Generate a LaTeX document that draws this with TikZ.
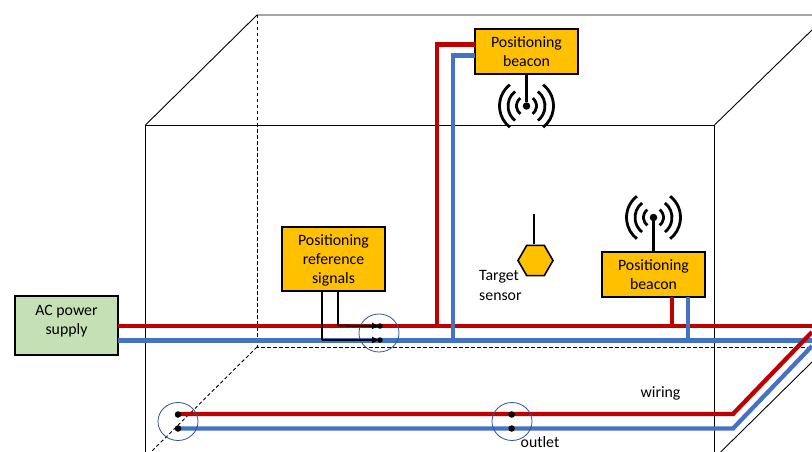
\documentclass[tikz,border=0pt]{standalone}
\usepackage{fontspec}
\setmainfont{Carlito}
\usetikzlibrary{arrows.meta,shapes.geometric}
\definecolor{wred}{HTML}{C00000}
\definecolor{wblue}{HTML}{4472C4}
\definecolor{box}{HTML}{FFC000}
\definecolor{grn}{HTML}{C5E0B4}
\definecolor{ring}{HTML}{2F5597}
\tikzset{
  edge/.style={draw=black,line width=0.9pt},
  hidden/.style={draw=black,line width=0.9pt,dash pattern=on 3.5pt off 2.5pt},
  redw/.style={draw=wred,line width=4.3pt,line join=miter},
  bluew/.style={draw=wblue,line width=4.3pt,line join=miter},
  sig/.style={draw=black,line width=1.8pt,line join=miter},
  sigarrow/.style={sig,-{Latex[length=8pt,width=7pt]}},
  stem/.style={draw=black,line width=2.2pt},
  wave/.style={draw=black,line width=2.8pt,line cap=butt},
  orangebox/.style={draw=black,line width=1.6pt,fill=box,align=center,font=\fontsize{15.8}{19.3}\selectfont,inner sep=0pt},
  label/.style={align=left,font=\fontsize{15.8}{20}\selectfont,inner sep=0pt},
  ringnode/.style={draw=ring,line width=0.8pt,ellipse,minimum width=40pt,minimum height=38pt,inner sep=0pt},
  dot/.style={circle,fill=black,minimum size=6.5pt,inner sep=0pt},
  tiny/.style={circle,fill=black,minimum size=5.5pt,inner sep=0pt}
}
\newcommand{\antenna}[1]{%
  \foreach \r in {10,18.5,27}{
    \draw[wave] (#1) ++(52:\r pt) arc[start angle=52,end angle=-52,radius=\r pt];
    \draw[wave] (#1) ++(128:\r pt) arc[start angle=128,end angle=232,radius=\r pt];
  }
}
\begin{document}
\begin{tikzpicture}[x=1pt,y=-1pt]
\useasboundingbox (0,0) rectangle (812,452);
\fill[white] (0,0) rectangle (812,452);
% cube
\coordinate (ftl) at (145.5,125); \coordinate (ftr) at (714.5,125);
\coordinate (fbl) at (145.5,452); \coordinate (fbr) at (714.5,452);
\coordinate (btl) at (257,15); \coordinate (btr) at (812,15);
\coordinate (bbl) at (257,347); \coordinate (bbr) at (812,347);
\coordinate (dfl) at (151,452); \coordinate (trx) at (812,30);
\coordinate (brx) at (812,362); \coordinate (brn) at (720.7,452);
\draw[edge] (fbl) -- (ftl) -- (ftr) -- (fbr);
\draw[edge] (ftl) -- (btl) -- (btr);
\draw[edge] (ftr) -- (trx);
\draw[edge] (brx) -- (brn);
\draw[hidden] (btl) -- (bbl) -- (bbr);
\draw[hidden] (bbl) -- (dfl);
% nodes
\node[orangebox,draw=black,fill=grn,minimum width=103pt,minimum height=59pt,text depth=11.5pt] (ac) at (66.5,325.5) {AC power\\supply};
\node[orangebox,minimum width=103pt,minimum height=45pt] (b1) at (526.5,51.5) {Positioning\\beacon};
\node[orangebox,minimum width=103pt,minimum height=45pt] (b2) at (653.5,274.5) {Positioning\\beacon};
\node[orangebox,minimum width=103pt,minimum height=64pt,text depth=0pt] (ref) at (333.5,259) {Positioning\\reference\\signals};
% junctions
\coordinate (acr) at (118,326); \coordinate (acb) at (118,340.5);
\coordinate (er) at (812,326); \coordinate (eb) at (812,340.5);
\coordinate (b1r) at (475,44.5); \coordinate (b1rc) at (437,44.5); \coordinate (b1rd) at (437,326);
\coordinate (b1b) at (475,55.5); \coordinate (b1bc) at (453,55.5); \coordinate (b1bd) at (453,340.5);
\coordinate (b2r) at (672,297); \coordinate (b2rd) at (672,326);
\coordinate (b2b) at (688,297); \coordinate (b2bd) at (688,340.5);
\coordinate (lr1) at (178,414); \coordinate (lr2) at (733,414); \coordinate (lr3) at (812,332);
\coordinate (lb1) at (178,428.5); \coordinate (lb2) at (733,428.5); \coordinate (lb3) at (812,346);
% wires
\draw[redw] (acr) -- (er);
\draw[bluew] (acb) -- (eb);
\draw[redw] (b1r) -- (b1rc) -- (b1rd);
\draw[bluew] (b1b) -- (b1bc) -- (b1bd);
\draw[redw] (b2r) -- (b2rd);
\draw[bluew] (b2b) -- (b2bd);
\draw[redw] (lr1) -- (lr2) -- (lr3);
\draw[bluew] (lb1) -- (lb2) -- (lb3);
% outlets
\node[ringnode] (o0) at (379,333) {};
\node[ringnode] (o1) at (178,421.5) {};
\node[ringnode] (o2) at (512,421.5) {};
\node[tiny] (p1) at (380,326) {};
\node[tiny] (p2) at (380,340) {};
\node[dot] (q1) at (178,414.5) {};
\node[dot] (q2) at (178,428.5) {};
\node[dot] (q3) at (511.7,414.5) {};
\node[dot] (q4) at (511.7,428.5) {};
% reference signals wiring
\coordinate (s1) at (338,291); \coordinate (s1c) at (338,325.5);
\coordinate (s2) at (322,291); \coordinate (s2c) at (322,340);
\draw[sig] (s1) -- (s1c);
\draw[sig] (s2) -- (s2c);
\draw[sigarrow] (s1c) -- (p1.center);
\draw[sigarrow] (s2c) -- (p2.center);
% antennas
\node[dot,minimum size=7.5pt] (a1) at (526.5,106) {};
\node[dot,minimum size=7.5pt] (a2) at (653.5,217.5) {};
\draw[stem] (b1.south) -- (a1);
\draw[stem] (b2.north) -- (a2);
\antenna{a1}
\antenna{a2}
% target sensor
\node[regular polygon,regular polygon sides=6,draw=black,line width=1.6pt,fill=box,minimum size=35pt,inner sep=0pt] (hex) at (535.5,260.5) {};
\coordinate (tip) at (534,214);
\draw[stem] (tip) -- (534,244);
\node[label,anchor=west] (tl) at (479,285) {Target\\sensor};
\node[label,anchor=center] (w) at (660.5,393) {wiring};
\node[label,anchor=center] (o) at (540,442) {outlet};
\end{tikzpicture}
\end{document}
